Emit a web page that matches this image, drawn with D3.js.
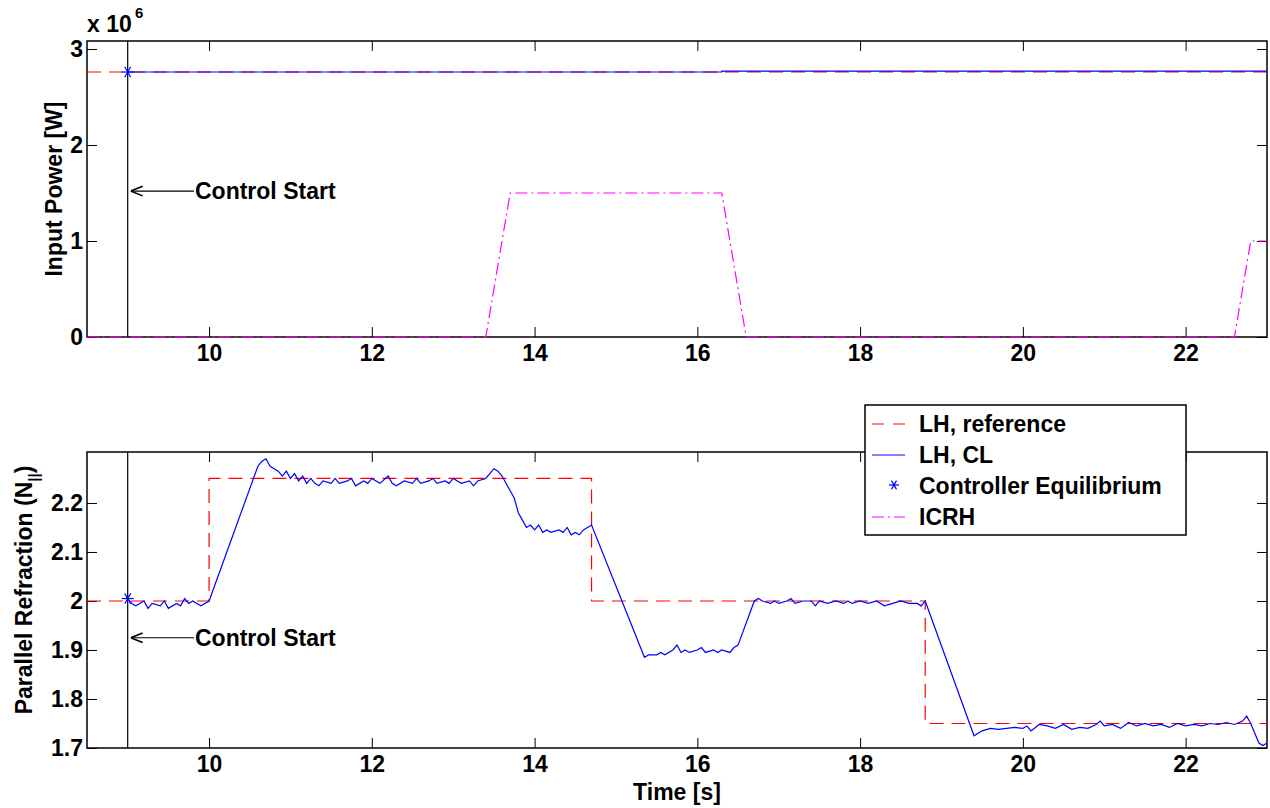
<!DOCTYPE html>
<html><head><meta charset="utf-8">
<script src="https://cdn.jsdelivr.net/npm/d3@7"></script>
<style>
body{margin:0;background:#fff;}
text{font-family:"Liberation Sans",Arial,sans-serif;font-weight:700;}
</style></head><body>
<svg id="c" width="1270" height="808"></svg>
<script>
var controlStart = 9.0;
var xTicks = [10, 12, 14, 16, 18, 20, 22];
var topTicks = [0, 1, 2, 3];
var botTicks = [1.7, 1.8, 1.9, 2.0, 2.1, 2.2];

// input power [W]
var refPowT = [8.5, 23];
var refPowV = [2.76e6, 2.76e6];
var clPowT = [9, 16.3, 16.3, 23];
var clPowV = [2.76e6, 2.76e6, 2.77e6, 2.77e6];
var icrhT = [8.5, 13.4, 13.7, 16.3, 16.6, 22.6, 22.8, 23];
var icrhV = [0, 0, 1.5e6, 1.5e6, 0, 0, 1.0e6, 1.0e6];

// parallel refraction
var refNT = [8.5, 10, 10, 14.7, 14.7, 18.8, 18.8, 23];
var refNV = [2.0, 2.0, 2.25, 2.25, 2.0, 2.0, 1.75, 1.75];
var clNT = [9.0, 9.05, 9.1, 9.2, 9.25, 9.3, 9.4, 9.45, 9.5, 9.6, 9.65, 9.7, 9.75, 9.8, 9.85, 9.9, 10.0,
  10.6, 10.65, 10.7, 10.75, 10.8, 10.85, 10.9, 10.95, 11.0, 11.05, 11.1, 11.15, 11.2, 11.25, 11.3, 11.35, 11.4,
  11.5, 11.55, 11.6, 11.7, 11.75, 11.8, 11.9, 11.95, 12.0, 12.1, 12.2, 12.25, 12.3, 12.4, 12.5, 12.55, 12.6, 12.7,
  12.75, 12.8, 12.9, 12.95, 13.0, 13.1, 13.2, 13.25, 13.3, 13.4, 13.5, 13.55, 13.6, 13.7, 13.75, 13.8, 13.85,
  13.9, 13.95, 14.0, 14.05, 14.1, 14.15, 14.2, 14.3, 14.35, 14.4, 14.45, 14.5, 14.55, 14.6, 14.65, 14.7,
  15.35, 15.4, 15.5, 15.55, 15.6, 15.7, 15.75, 15.8, 15.85, 15.9, 16.0, 16.05, 16.1, 16.2, 16.25, 16.3, 16.4, 16.45, 16.5,
  16.7, 16.75, 16.8, 16.9, 16.95, 17.0, 17.1, 17.15, 17.2, 17.3, 17.4, 17.45, 17.5, 17.6, 17.7, 17.8, 17.85, 17.9,
  18.0, 18.1, 18.2, 18.3, 18.4, 18.5, 18.6, 18.7, 18.75, 18.8,
  19.4, 19.45, 19.5, 19.6, 19.7, 19.8, 19.9, 20.0, 20.05, 20.1, 20.2, 20.3, 20.4, 20.5, 20.6, 20.7, 20.8, 20.9, 20.95,
  21.0, 21.1, 21.2, 21.3, 21.4, 21.5, 21.6, 21.7, 21.8, 21.9, 22.0, 22.1, 22.2, 22.3, 22.4, 22.5, 22.6, 22.7, 22.75,
  22.8, 22.85, 22.9, 22.95, 23.0];
var clNV = [2.005, 1.995, 1.99, 2.0, 1.985, 1.995, 1.99, 2.0, 1.985, 1.995, 1.99, 2.005, 1.995, 2.0, 1.995, 1.99, 2.0,
  2.275, 2.285, 2.29, 2.275, 2.27, 2.265, 2.255, 2.265, 2.25, 2.26, 2.245, 2.255, 2.24, 2.25, 2.24, 2.235, 2.245,
  2.24, 2.25, 2.24, 2.245, 2.25, 2.235, 2.245, 2.24, 2.25, 2.24, 2.255, 2.24, 2.235, 2.245, 2.24, 2.25, 2.24, 2.245,
  2.25, 2.24, 2.245, 2.24, 2.25, 2.24, 2.245, 2.235, 2.245, 2.25, 2.27, 2.265, 2.255, 2.225, 2.21, 2.18, 2.165,
  2.15, 2.155, 2.145, 2.155, 2.14, 2.145, 2.14, 2.145, 2.14, 2.15, 2.135, 2.14, 2.135, 2.145, 2.15, 2.155,
  1.885, 1.89, 1.89, 1.895, 1.89, 1.9, 1.91, 1.895, 1.9, 1.895, 1.9, 1.905, 1.895, 1.9, 1.895, 1.9, 1.895, 1.905, 1.91,
  2.0, 2.005, 2.0, 1.995, 2.0, 1.995, 2.0, 2.005, 1.995, 2.0, 2.0, 1.99, 2.0, 1.995, 2.0, 1.995, 2.0, 1.995,
  2.0, 1.995, 2.0, 1.99, 1.995, 2.0, 1.995, 1.995, 1.99, 2.0,
  1.725, 1.73, 1.735, 1.74, 1.738, 1.74, 1.742, 1.74, 1.745, 1.735, 1.748, 1.745, 1.74, 1.748, 1.738, 1.742, 1.74, 1.748, 1.755,
  1.745, 1.748, 1.74, 1.752, 1.745, 1.75, 1.745, 1.748, 1.742, 1.75, 1.745, 1.748, 1.745, 1.75, 1.748, 1.752, 1.748, 1.755, 1.765,
  1.75, 1.73, 1.71, 1.705, 1.71];

var FS = 23;

function zip(t, v) { return t.map(function (d, i) { return [d, v[i]]; }); }

var svg = d3.select('#c');
var x = d3.scaleLinear().domain([8.5, 23]).range([87, 1267]);
var yTop = d3.scaleLinear().domain([0, 3.083e6]).range([337, 41]);
var yBot = d3.scaleLinear().domain([1.7, 2.304]).range([748, 452]);

function drawAxes(y, top, bottom, ticks, fmt) {
    var g = svg.append('g');
    g.append('rect').attr('x', 87).attr('y', top).attr('width', 1180).attr('height', bottom - top)
        .attr('fill', 'none').attr('stroke', '#000').attr('stroke-width', 1.5);
    var xa = g.append('g').attr('transform', 'translate(0,' + bottom + ')')
        .call(d3.axisBottom(x).tickValues(xTicks).tickSize(-10).tickPadding(8).tickFormat(d3.format('d')));
    var xa2 = g.append('g').attr('transform', 'translate(0,' + top + ')')
        .call(d3.axisTop(x).tickValues(xTicks).tickSize(-10).tickFormat(''));
    var ya = g.append('g').attr('transform', 'translate(87,0)')
        .call(d3.axisLeft(y).tickValues(ticks).tickSize(-10).tickPadding(4).tickFormat(fmt));
    var ya2 = g.append('g').attr('transform', 'translate(1267,0)')
        .call(d3.axisRight(y).tickValues(ticks).tickSize(-10).tickFormat(''));
    [xa, xa2, ya, ya2].forEach(function (a) {
        a.select('.domain').remove();
        a.selectAll('line').attr('stroke', '#000');
        a.selectAll('text').attr('font-size', FS).attr('fill', '#000')
            .style('font-family', '"Liberation Sans",Arial,sans-serif').style('font-weight', '700');
    });
}

drawAxes(yTop, 41, 337, topTicks.map(function (d) { return d * 1e6; }), function (d) { return d / 1e6; });
drawAxes(yBot, 452, 748, botTicks, function (d) { return d === 2 ? '2' : d3.format('.1f')(d); });

function line(y) { return d3.line().x(function (d) { return x(d[0]); }).y(function (d) { return y(d[1]); }); }
svg.append('clipPath').attr('id', 'ct').append('rect').attr('x', 87).attr('y', 41).attr('width', 1180).attr('height', 297);
svg.append('clipPath').attr('id', 'cb').append('rect').attr('x', 87).attr('y', 452).attr('width', 1180).attr('height', 297);

var pt = svg.append('g').attr('clip-path', 'url(#ct)');
pt.append('path').attr('d', line(yTop)(zip(icrhT, icrhV))).attr('fill', 'none')
    .attr('stroke', '#ff00ff').attr('stroke-width', 1.2).attr('stroke-dasharray', '12,4,2,4');
pt.append('path').attr('d', line(yTop)(zip(refPowT, refPowV))).attr('fill', 'none')
    .attr('stroke', '#ff0000').attr('stroke-width', 1.2).attr('stroke-dasharray', '14,8');
pt.append('path').attr('d', line(yTop)(zip(clPowT, clPowV))).attr('fill', 'none')
    .attr('stroke', '#0000ff').attr('stroke-width', 1.2);

var pb = svg.append('g').attr('clip-path', 'url(#cb)');
pb.append('path').attr('d', line(yBot)(zip(refNT, refNV))).attr('fill', 'none')
    .attr('stroke', '#ff0000').attr('stroke-width', 1.2).attr('stroke-dasharray', '14,8');
pb.append('path').attr('d', line(yBot)(zip(clNT, clNV))).attr('fill', 'none')
    .attr('stroke', '#0000ff').attr('stroke-width', 1.2);

function star(cx, cy, r) {
    var g = svg.append('g').attr('stroke', '#0000ff').attr('stroke-width', 1.2);
    [0, 60, 120].forEach(function (a) {
        var rad = a * Math.PI / 180;
        g.append('line').attr('x1', cx - r * Math.cos(rad)).attr('y1', cy - r * Math.sin(rad))
            .attr('x2', cx + r * Math.cos(rad)).attr('y2', cy + r * Math.sin(rad));
    });
}

svg.append('defs').append('marker').attr('id', 'ah').attr('viewBox', '0 0 10 10').attr('refX', 10).attr('refY', 5)
    .attr('markerWidth', 12).attr('markerHeight', 12).attr('markerUnits', 'userSpaceOnUse').attr('orient', 'auto')
    .append('path').attr('d', 'M0,1 L10,5 L0,9').attr('fill', 'none').attr('stroke', '#000').attr('stroke-width', 1.3);

function control(y, top, bottom, yArrow, yStar) {
    svg.append('line').attr('x1', x(controlStart)).attr('x2', x(controlStart)).attr('y1', top).attr('y2', bottom)
        .attr('stroke', '#000').attr('stroke-width', 1.2);
    svg.append('line').attr('x1', 194).attr('x2', x(controlStart) + 3).attr('y1', y(yArrow)).attr('y2', y(yArrow))
        .attr('stroke', '#000').attr('stroke-width', 1.2).attr('marker-end', 'url(#ah)');
    svg.append('text').attr('x', 195).attr('y', y(yArrow) + 8).attr('font-size', FS).text('Control Start');
    star(x(controlStart), y(yStar), 6);
}
control(yTop, 41, 337, 1.52e6, 2.76e6);
control(yBot, 452, 748, 1.925, 2.005);

svg.append('text').attr('x', 87).attr('y', 32).attr('font-size', FS).text('x 10');
svg.append('text').attr('x', 135).attr('y', 18).attr('font-size', 15).text('6');

svg.append('text').attr('transform', 'translate(62,189) rotate(-90)').attr('text-anchor', 'middle')
    .attr('font-size', FS).text('Input Power [W]');
var yl = svg.append('text').attr('transform', 'translate(32,590) rotate(-90)').attr('text-anchor', 'middle')
    .attr('font-size', FS);
yl.append('tspan').text('Parallel Refraction (N');
yl.append('tspan').attr('font-size', 15).attr('dy', 7).text('||');
yl.append('tspan').attr('dy', -7).text(')');
svg.append('text').attr('x', 677).attr('y', 800).attr('text-anchor', 'middle').attr('font-size', FS).text('Time [s]');

// legend
var lg = svg.append('g').attr('transform', 'translate(865,405)');
lg.append('rect').attr('width', 321).attr('height', 130).attr('fill', '#fff').attr('stroke', '#000').attr('stroke-width', 1.5);
var items = [
    {label: 'LH, reference', color: '#ff0000', dash: '12,9'},
    {label: 'LH, CL', color: '#0000ff', dash: null},
    {label: 'Controller Equilibrium', color: '#0000ff', star: true},
    {label: 'ICRH', color: '#ff00ff', dash: '12,4,2,4'}
];
items.forEach(function (d, i) {
    var yy = 19 + i * 31;
    if (d.star) {
        star(865 + 29, 405 + yy - 1, 5);
    } else {
        lg.append('line').attr('x1', 7).attr('x2', 40).attr('y1', yy).attr('y2', yy)
            .attr('stroke', d.color).attr('stroke-width', 1.2).attr('stroke-dasharray', d.dash);
    }
    lg.append('text').attr('x', 54).attr('y', yy + 8).attr('font-size', FS).text(d.label);
});
</script>
</body></html>
